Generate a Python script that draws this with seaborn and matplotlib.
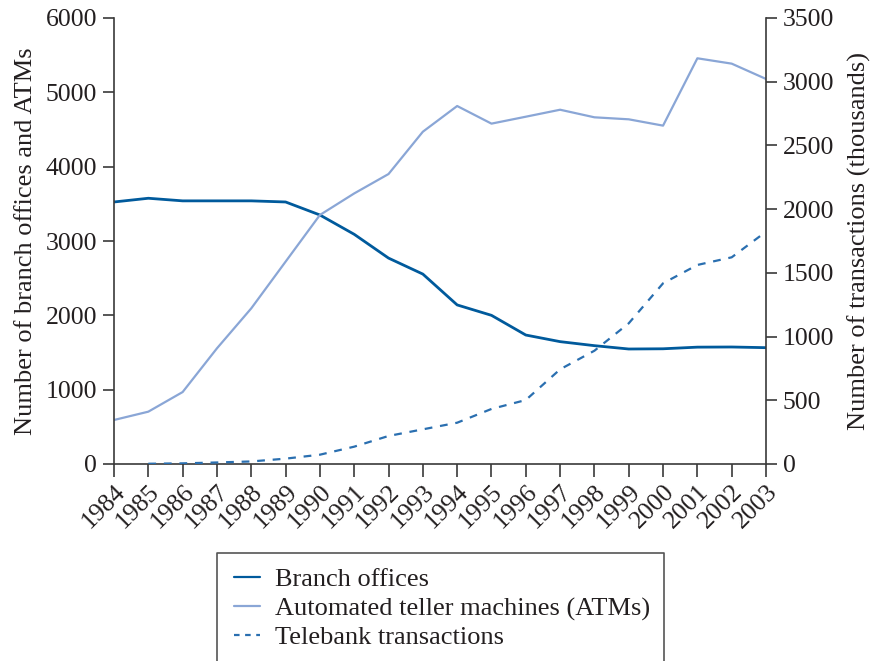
import matplotlib
matplotlib.use("Agg")
import matplotlib.pyplot as plt
import seaborn as sns
import pandas as pd
from matplotlib.lines import Line2D

# Annual figures, 1984-2003
years = list(range(1984, 2004))
branch_offices = [3525, 3575, 3540, 3540, 3540, 3525, 3350, 3090, 2770, 2555,
                  2140, 2000, 1735, 1646, 1592, 1547, 1550, 1572, 1574, 1565]
atms = [592, 704, 968, 1556, 2094, 2722, 3350, 3640, 3901, 4470,
        4816, 4579, 4672, 4766, 4664, 4637, 4552, 5458, 5386, 5180]
tele_years = list(range(1985, 2004))
telebank = [2, 5, 12, 20, 42, 73, 136, 220, 272, 324,
            432, 502, 743, 889, 1104, 1418, 1562, 1622, 1823]

left_ticks = [0, 1000, 2000, 3000, 4000, 5000, 6000]
right_ticks = [0, 500, 1000, 1500, 2000, 2500, 3000, 3500]

c_branch = "#005a9c"
c_atm = "#8aa6d6"
c_tele = "#2a6fb0"
txt = "#231f20"
spine_c = "#3a3a3a"

sns.set_style("ticks")
plt.rcParams["font.family"] = ["Liberation Serif", "DejaVu Serif"]
plt.rcParams["text.color"] = txt
plt.rcParams["axes.labelcolor"] = txt
plt.rcParams["xtick.color"] = spine_c
plt.rcParams["ytick.color"] = spine_c
plt.rcParams["xtick.labelcolor"] = txt
plt.rcParams["ytick.labelcolor"] = txt

W, H = 873, 661
fig = plt.figure(figsize=(W / 100, H / 100), dpi=100)
ax = fig.add_axes([114 / W, 1 - 464 / H, (766 - 114) / W, (464 - 18) / H])
ax2 = ax.twinx()

df = pd.DataFrame({"year": years, "branch": branch_offices, "atm": atms})
tdf = pd.DataFrame({"year": tele_years, "tele": telebank})

sns.lineplot(data=df, x="year", y="branch", ax=ax, color=c_branch, linewidth=2.0)
sns.lineplot(data=df, x="year", y="atm", ax=ax, color=c_atm, linewidth=1.6)
sns.lineplot(data=tdf, x="year", y="tele", ax=ax2, color=c_tele, linewidth=1.6,
             linestyle=(0, (3.5, 3.5)))

ax.set_xlim(1984, 2003)
ax.set_ylim(0, 6000)
ax2.set_ylim(0, 3500)
ax.set_xticks(years)
ax.set_xticklabels([str(y) for y in years], rotation=45, ha="right",
                   rotation_mode="anchor", fontsize=18.5)
ax.set_yticks(left_ticks)
ax.set_yticklabels([str(v) for v in left_ticks], fontsize=18.5)
ax2.set_yticks(right_ticks)
ax2.set_yticklabels([str(v) for v in right_ticks], fontsize=18.5)

ax.tick_params(axis="x", length=9, width=1.2, pad=3)
ax.tick_params(axis="y", length=8, width=1.2, pad=4)
ax2.tick_params(axis="y", length=8, width=1.2, pad=4)

ax.set_xlabel("")
ax.set_ylabel("Number of branch offices and ATMs", fontsize=19, labelpad=6)
ax2.set_ylabel("Number of transactions (thousands)", fontsize=19, labelpad=10)

for a in (ax, ax2):
    a.spines["top"].set_visible(False)
    for s in ("left", "right", "bottom"):
        a.spines[s].set_color(spine_c)
        a.spines[s].set_linewidth(1.2)
ax.spines["right"].set_visible(False)
ax2.spines["left"].set_visible(False)
ax2.spines["bottom"].set_visible(False)

handles = [
    Line2D([], [], color=c_branch, linewidth=1.6),
    Line2D([], [], color=c_atm, linewidth=1.6),
    Line2D([], [], color=c_tele, linewidth=1.6, linestyle=(0, (2.5, 2.5))),
]
labels = ["Branch offices", "Automated teller machines (ATMs)", "Telebank transactions"]
leg = fig.legend(handles, labels, loc="upper left",
                 bbox_to_anchor=(234 / W, 1 - 568 / H), frameon=False, fontsize=19,
                 handlelength=1.0, handletextpad=0.55, borderpad=0.0,
                 labelspacing=0.2, borderaxespad=0.0)

# Open-bottomed frame around the key
x0, x1, ytop = 217 / W, 664 / W, 1 - 553 / H
fig.add_artist(Line2D([x0, x0, x1, x1], [-0.02, ytop, ytop, -0.02],
                      transform=fig.transFigure, color="#555555", linewidth=1.2))

fig.savefig("out.png", dpi=100)
